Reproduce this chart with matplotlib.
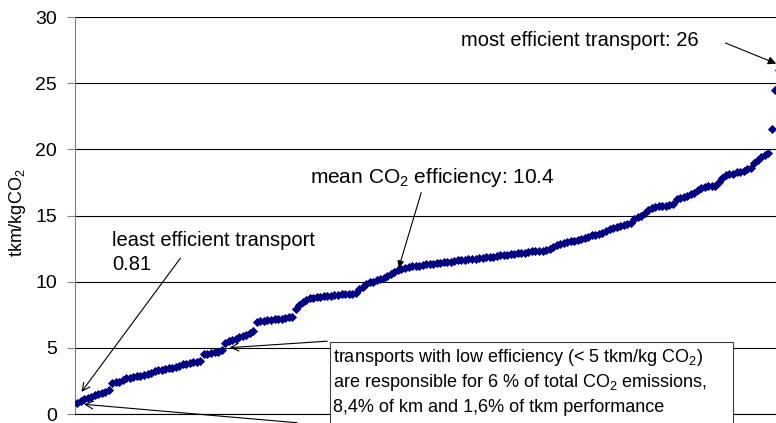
import numpy as np
import matplotlib
matplotlib.use("Agg")
import matplotlib.pyplot as plt
from matplotlib.patches import Rectangle

plt.rcParams['font.family'] = ['Liberation Sans', 'DejaVu Sans']
plt.rcParams['mathtext.fontset'] = 'custom'
plt.rcParams['mathtext.rm'] = 'Liberation Sans'
plt.rcParams['mathtext.it'] = 'Liberation Sans:italic'

# transports sorted by CO2 efficiency (tkm/kgCO2)
seg_low = [0.81, 0.95, 1.1, 1.2, 1.3, 1.4, 1.5, 1.6, 1.7, 1.8]
seg_2 = [2.35, 2.4, 2.45, 2.6, 2.7, 2.75, 2.8, 2.85, 2.9, 2.95, 3.0, 3.1, 3.25,
         3.3, 3.35, 3.4, 3.45, 3.5, 3.55, 3.65, 3.75, 3.8, 3.85, 3.9, 3.95, 4.0]
seg_3 = [4.5, 4.55, 4.6, 4.65, 4.7, 4.8]
seg_4 = [5.35, 5.5, 5.6, 5.7, 5.8, 5.9, 6.0, 6.15, 6.3]
seg_5 = [6.95, 7.0, 7.05, 7.1, 7.1, 7.15, 7.2, 7.2, 7.25, 7.3, 7.35]
seg_6 = [7.9, 8.2, 8.45, 8.6, 8.75, 8.8, 8.85, 8.85, 8.9, 8.9, 8.95, 9.0, 9.0,
         9.05, 9.05, 9.1, 9.1, 9.15]
seg_7 = [9.45, 9.6, 9.8, 9.95, 10.0, 10.1, 10.2, 10.3, 10.45, 10.6, 10.75,
         10.85, 10.95, 11.05, 11.1]
seg_8 = [11.15, 11.2, 11.2, 11.25, 11.3, 11.3, 11.35, 11.4, 11.4, 11.45, 11.5,
         11.5, 11.55, 11.6, 11.6, 11.65, 11.7, 11.7, 11.75, 11.8, 11.8, 11.85,
         11.9, 11.9, 11.95, 12.0, 12.0, 12.05, 12.1, 12.1, 12.15, 12.2, 12.2,
         12.25, 12.3, 12.3, 12.35, 12.35, 12.4]
seg_9 = [12.45, 12.6, 12.75, 12.85, 12.95, 13.0, 13.05, 13.1, 13.15, 13.25,
         13.3, 13.4, 13.5, 13.55, 13.6, 13.7, 13.85, 13.95, 14.05, 14.1, 14.2,
         14.25, 14.35, 14.45, 14.7, 14.85, 15.0, 15.2, 15.4]
seg_high = [15.55, 15.65, 15.7, 15.75, 15.75, 15.8, 15.85, 16.25, 16.35, 16.4,
            16.5, 16.6, 16.7, 16.9, 17.1, 17.15, 17.2, 17.2, 17.25, 17.5, 17.8,
            18.05, 18.1, 18.15, 18.25, 18.3, 18.4, 18.5, 18.6, 19.0, 19.2,
            19.4, 19.55, 19.7, 21.5, 24.5, 26.0]

efficiency = np.array(seg_low + seg_2 + seg_3 + seg_4 + seg_5 + seg_6 + seg_7
                      + seg_8 + seg_9 + seg_high)
idx = np.arange(len(efficiency))
yticks = [0, 5, 10, 15, 20, 25, 30]

W, H = 776, 423
def fp(x, y):
    # pixel position -> figure fraction
    return (x / W, 1 - y / H)

fig = plt.figure(figsize=(W / 100, H / 100), dpi=100)
ax = fig.add_axes([75 / W, 9 / H, 701 / W, 397 / H])

ax.plot(idx, efficiency, 'D', color='#000080', ms=4, mec='#000080', mew=0.6,
        zorder=3)

ax.set_xlim(-0.57, 198.2)
ax.set_ylim(0, 30)
ax.set_yticks(yticks)
ax.set_xticks([])
ax.yaxis.grid(True, color='#000000', lw=0.8)
ax.set_axisbelow(True)
for s in ['top', 'right']:
    ax.spines[s].set_visible(False)
ax.spines['left'].set_color('#808080')
ax.spines['bottom'].set_color('#000000')
ax.spines['bottom'].set_linewidth(0.8)
ax.tick_params(axis='y', length=6, color='#808080', labelsize=14, pad=7)

fig.text(*fp(18, 213), 'tkm/kgCO$_2$', rotation=90, ha='center', va='center',
         fontsize=13)

# annotations
ax.text(*fp(461, 41), 'most efficient transport: 26', transform=fig.transFigure,
        ha='left', va='center', fontsize=14.5)
ax.annotate('', xy=(idx[-1], 26.4), xytext=fp(723, 42),
            textcoords='figure fraction', annotation_clip=False,
            arrowprops=dict(arrowstyle='-|>', color='black', lw=0.8,
                            mutation_scale=12))

ax.text(*fp(310, 177), 'mean CO$_2$ efficiency: 10.4', transform=fig.transFigure,
        ha='left', va='center', fontsize=15)
ax.annotate('', xy=(91, 10.85), xytext=fp(422, 190),
            textcoords='figure fraction',
            arrowprops=dict(arrowstyle='-|>', color='black', lw=0.8,
                            mutation_scale=10))

ax.text(*fp(112, 240), 'least efficient transport', transform=fig.transFigure,
        ha='left', va='center', fontsize=14.5)
ax.text(*fp(112, 264), '0.81', transform=fig.transFigure,
        ha='left', va='center', fontsize=14.5)
ax.annotate('', xy=(0.8, 1.5), xytext=fp(182, 256),
            textcoords='figure fraction',
            arrowprops=dict(arrowstyle='->', color='black', lw=0.8,
                            mutation_scale=14))

# box on low efficiency transports
box = Rectangle(fp(330, 430), 403 / W, 88 / H, transform=fig.transFigure,
                facecolor='white', edgecolor='#404040', lw=0.8, zorder=4)
fig.patches.append(box)
box_lines = ['transports with low efficiency (< 5 tkm/kg CO$_2$)',
             'are responsible for 6 % of total CO$_2$ emissions,',
             '8,4% of km and 1,6% of tkm performance']
for k, line in enumerate(box_lines):
    fig.text(*fp(333, 357 + 25 * k), line, ha='left', va='center',
             fontsize=13, zorder=5)

ax.annotate('', xy=(42.5, 5.0), xytext=fp(330, 341),
            textcoords='figure fraction',
            arrowprops=dict(arrowstyle='->', color='black', lw=0.8,
                            mutation_scale=14))
ax.annotate('', xy=(1.2, 0.75), xytext=fp(300, 423),
            textcoords='figure fraction', annotation_clip=False,
            arrowprops=dict(arrowstyle='->', color='black', lw=0.8,
                            mutation_scale=14))

plt.savefig('out.png', dpi=100)
